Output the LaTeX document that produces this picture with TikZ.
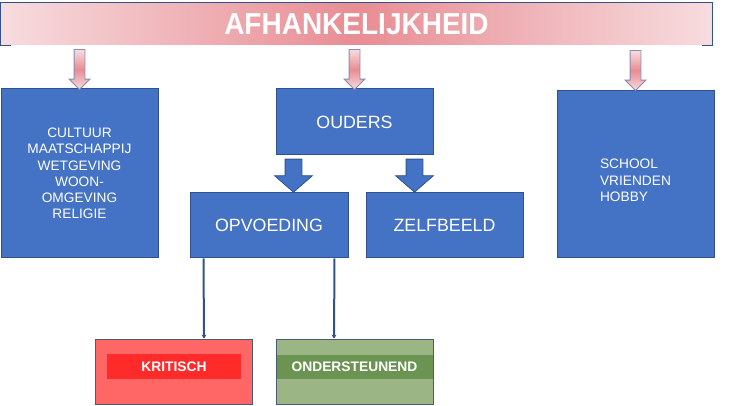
\documentclass[tikz,border=0pt]{standalone}
\usepackage{fontspec}
\setmainfont{Liberation Sans}
\usetikzlibrary{arrows.meta,calc,positioning,shapes.arrows}
\definecolor{boxblue}{HTML}{4472C4}
\definecolor{edgeblue}{HTML}{2F528F}
\definecolor{blush}{HTML}{F7DCDF}
\definecolor{rose}{HTML}{E88D93}
\definecolor{lilac}{HTML}{8A8AB2}
\definecolor{alarm}{HTML}{FF6666}
\definecolor{signal}{HTML}{FF2B2B}
\definecolor{sage}{HTML}{9BB584}
\definecolor{moss}{HTML}{6B9452}
\definecolor{slate}{HTML}{4A5A78}

\begin{document}
\begin{tikzpicture}[
  x=1pt,
  y=-1pt,
  >=Stealth,
  titlebar/.style={
    rectangle,
    left color=blush,
    right color=blush,
    middle color=rose,
    minimum width=711pt,
    minimum height=42pt,
    inner sep=0pt,
    text=white,
    font=\bfseries\fontsize{28}{30}\selectfont
  },
  bluebox/.style={
    rectangle,
    draw=edgeblue,
    fill=boxblue,
    line width=1pt,
    text=white,
    inner sep=0pt,
    align=center
  },
  bigtext/.style={font=\fontsize{17.8}{20}\selectfont},
  smalltext/.style={font=\fontsize{13.7}{16.3}\selectfont},
  verdict/.style={
    rectangle,
    draw=slate,
    line width=.8pt,
    minimum width=157pt,
    minimum height=65pt,
    inner sep=0pt
  },
  verdictbar/.style={
    rectangle,
    inner sep=0pt,
    text=white,
    font=\bfseries\fontsize{13.8}{16}\selectfont
  },
  pinkarrow/.style={
    single arrow,
    rotate=-90,
    draw=lilac,
    line width=.8pt,
    top color=blush,
    bottom color=blush,
    middle color=rose,
    minimum height=40pt,
    inner xsep=0pt,
    inner ysep=5pt,
    single arrow head extend=5pt,
    single arrow tip angle=90
  },
  bluearrow/.style={
    single arrow,
    rotate=-90,
    draw=edgeblue,
    fill=boxblue,
    line width=.8pt,
    minimum height=33pt,
    inner xsep=0pt,
    inner ysep=8pt,
    single arrow head extend=10.5pt,
    single arrow tip angle=98
  },
  thinarrow/.style={
    edgeblue,
    line width=2pt,
    -{Stealth[length=4pt,width=5pt]}
  }
]

\useasboundingbox (0,0) rectangle (732,406);

\node[titlebar] (bar) at (356.5,24) {\scalebox{1}[1.08]{AFHANKELIJKHEID}};
\draw[edgeblue,line width=.8pt]
  ([xshift=10pt]bar.south west) -- (bar.south west)
  -- (bar.north west) -- (bar.north east)
  -- (bar.south east) -- ([xshift=-10pt]bar.south east);

\node[bluebox,smalltext,minimum width=157pt,minimum height=169pt]
  (cultuur) at (79.5,173.5)
  {CULTUUR\\MAATSCHAPPIJ\\WETGEVING\\WOON-\\OMGEVING\\RELIGIE};

\node[bluebox,bigtext,minimum width=157pt,minimum height=66pt]
  (ouders) at (354.5,122) {OUDERS};

\node[bluebox,bigtext,minimum width=158pt,minimum height=65pt]
  (opvoeding) at (269,225.5) {OPVOEDING};

\node[bluebox,bigtext,minimum width=157pt,minimum height=65pt]
  (zelfbeeld) at (444.5,225.5) {ZELFBEELD};

\node[bluebox,smalltext,minimum width=157pt,minimum height=167pt]
  (school) at (635.5,174.5) {};
\node[smalltext,text=white,align=left,inner sep=0pt]
  (hobby) at ($(school.center)+(0,6)$) {SCHOOL\\VRIENDEN\\HOBBY};

\node[pinkarrow] (p1) at ($(bar.south -| cultuur.north)!.5!(cultuur.north)$) {};
\node[pinkarrow] (p2) at ($(bar.south -| ouders.north)!.5!(ouders.north)$) {};
\node[pinkarrow] (p3) at ($(bar.south -| school.north)!.5!(school.north)$) {};

\node[bluearrow] (b1) at ($(ouders.south west)+(18,16.5)$) {};
\node[bluearrow] (b2) at ($(ouders.south east)+(-19,16.5)$) {};

\node[verdict,fill=alarm] (kritisch) at (174,371.5) {};
\node[verdictbar,fill=signal,minimum width=134pt,minimum height=25pt]
  (kritischbar) at ($(kritisch.center)+(0,-5)$) {KRITISCH};

\node[verdict,fill=sage] (ondersteunend) at (354.5,371.5) {};
\node[verdictbar,fill=moss,minimum width=156pt,minimum height=24pt]
  (steunband) at ($(ondersteunend.center)+(0,-4.5)$) {ONDERSTEUNEND};

\draw[thinarrow] ([xshift=14pt]opvoeding.south west) -- ([xshift=30pt]kritisch.north);
\draw[thinarrow] ([xshift=-14pt]opvoeding.south east) -- ([xshift=-20.5pt]ondersteunend.north);

\end{tikzpicture}
\end{document}
